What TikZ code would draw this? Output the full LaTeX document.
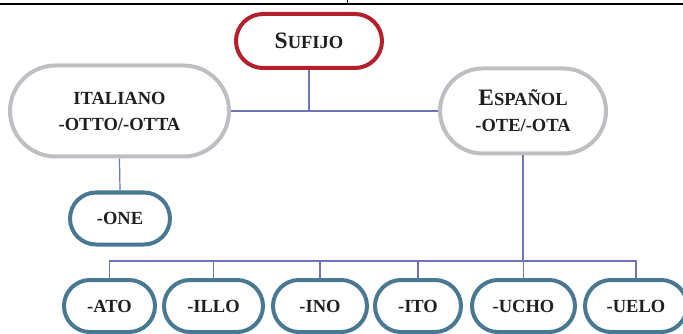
\documentclass[tikz,border=0pt]{standalone}
\usepackage{fontspec}
\setmainfont{Liberation Serif}
\usetikzlibrary{shapes.misc}
\definecolor{rootred}{HTML}{B3202C}
\definecolor{langgray}{HTML}{BEBFC3}
\definecolor{suffblue}{HTML}{497892}
\definecolor{linkblue}{HTML}{6F73B8}
\newcommand{\capsz}[1]{{\fontsize{23.5}{26}\selectfont #1}}
\tikzset{
box/.style={rounded rectangle, line width=4pt, fill=white, inner sep=0pt,
  text=black!88, font=\bfseries\fontsize{18.5}{26}\selectfont, align=center},
rootbox/.style={box, draw=rootred},
langbox/.style={box, draw=langgray},
suffbox/.style={box, draw=suffblue, minimum height=52pt},
link/.style={draw=linkblue, line width=1.2pt},
}

\begin{document}
\begin{tikzpicture}[x=1pt,y=-1pt]
    \useasboundingbox (0,0) rectangle (683,334);
    % rule of the page above
    \draw[line width=2.6pt] (0,4) -- (683,4);
    \draw[line width=1pt] (347,0) -- (347,4);

    \node[rootbox, minimum width=146pt, minimum height=54pt] (sufijo) at (309,41)
        {\capsz{S}UFIJO};
    \node[langbox, minimum width=219pt, minimum height=91pt] (italiano) at (119.5,111)
        {ITALIANO\\-OTTO/-OTTA};
    \node[langbox, minimum width=166pt, minimum height=85pt] (espanol) at (523,111)
        {\capsz{E}SPAÑOL\\-OTE/-OTA};
    \node[suffbox, minimum width=100pt] (one) at (120,218.5) {-ONE};

    % suffixes of espanol
    \node[suffbox, minimum width=91pt] (ato) at (109.5,306) {-ATO};
    \node[suffbox, minimum width=99pt] (illo) at (213.5,306) {-ILLO};
    \node[suffbox, minimum width=94pt] (ino) at (320,306) {-INO};
    \node[suffbox, minimum width=86pt] (ito) at (418,306) {-ITO};
    \node[suffbox, minimum width=103pt] (ucho) at (523.5,306) {-UCHO};
    \node[suffbox, minimum width=102pt] (uelo) at (636,306) {-UELO};

    \coordinate (fork) at (sufijo.south |- italiano.east);
    \coordinate (bus) at (espanol.south |- 0,261);

    \draw[link] (italiano.east) -- (espanol.west);
    \draw[link] (sufijo.south) -- (fork);
    \draw[link] (italiano.south) -- (one.north);
    \draw[link] (espanol.south) -- (bus);
    \draw[link] (ato.north) -- (ato.north |- bus) -- (uelo.north |- bus) -- (uelo.north);
    \draw[link] (illo.north) -- (illo.north |- bus);
    \draw[link] (ino.north) -- (ino.north |- bus);
    \draw[link] (ito.north) -- (ito.north |- bus);
    \draw[link] (ucho.north) -- (ucho.north |- bus);
\end{tikzpicture}
\end{document}
